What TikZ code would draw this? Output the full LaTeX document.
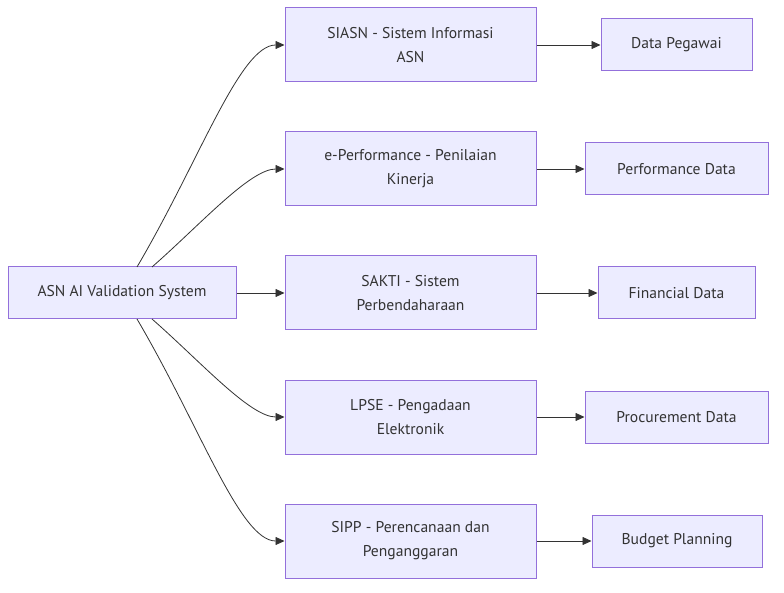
\documentclass[tikz,border=0pt]{standalone}
\usepackage{fontspec}
\setmainfont{PT Sans}
\usetikzlibrary{arrows.meta}
\definecolor{boxfill}{HTML}{ECECFF}
\definecolor{boxline}{HTML}{9370DB}
\definecolor{linkgray}{HTML}{333333}
\tikzset{
  sysbox/.style={shape=rectangle, draw=boxline, fill=boxfill, line width=1pt, text=linkgray,
    inner sep=0pt, align=center, font=\fontsize{15.6}{24}\selectfont},
  link/.style={-{Triangle[length=9pt,width=8pt]}, line width=0.8pt, draw=linkgray}
}
\begin{document}
\begin{tikzpicture}[x=1pt,y=-1pt]
\useasboundingbox (0,0) rectangle (784,593);
% source
\node[sysbox, minimum width=228pt, minimum height=52pt] (asn) at (122,293) {ASN AI Validation System};
% systems
\node[sysbox, minimum width=251pt, minimum height=74pt] (siasn) at (410.5,45) {SIASN - Sistem Informasi\\ASN};
\node[sysbox, minimum width=251pt, minimum height=74pt] (eperf) at (410.5,169) {e-Performance - Penilaian\\Kinerja};
\node[sysbox, minimum width=251pt, minimum height=74pt] (sakti) at (410.5,293) {SAKTI - Sistem\\Perbendaharaan};
\node[sysbox, minimum width=251pt, minimum height=74pt] (lpse) at (410.5,417) {LPSE - Pengadaan\\Elektronik};
\node[sysbox, minimum width=251pt, minimum height=74pt] (sipp) at (410.5,541) {SIPP - Perencanaan dan\\Penganggaran};
% data
\node[sysbox, minimum width=151pt, minimum height=52pt] (pegawai) at (676.5,45) {Data Pegawai};
\node[sysbox, minimum width=183pt, minimum height=52pt] (perfdata) at (676.5,169) {Performance Data};
\node[sysbox, minimum width=157pt, minimum height=52pt] (findata) at (676.5,293) {Financial Data};
\node[sysbox, minimum width=183pt, minimum height=52pt] (procdata) at (676.5,417) {Procurement Data};
\node[sysbox, minimum width=170pt, minimum height=52pt] (budget) at (677,541) {Budget Planning};
% links
\coordinate (top1) at (137,267);
\coordinate (top2) at (152,267);
\coordinate (bot1) at (137,319);
\coordinate (bot2) at (152,319);
\draw[link] (top1) .. controls (200,160) and (240,45) .. (siasn.west);
\draw[link] (top2) .. controls (200,225) and (250,169) .. (eperf.west);
\draw[link] (asn) -- (sakti);
\draw[link] (bot2) .. controls (200,361) and (250,417) .. (lpse.west);
\draw[link] (bot1) .. controls (200,426) and (240,541) .. (sipp.west);
\draw[link] (siasn) -- (pegawai);
\draw[link] (eperf) -- (perfdata);
\draw[link] (sakti) -- (findata);
\draw[link] (lpse) -- (procdata);
\draw[link] (sipp) -- (budget);
\end{tikzpicture}
\end{document}
